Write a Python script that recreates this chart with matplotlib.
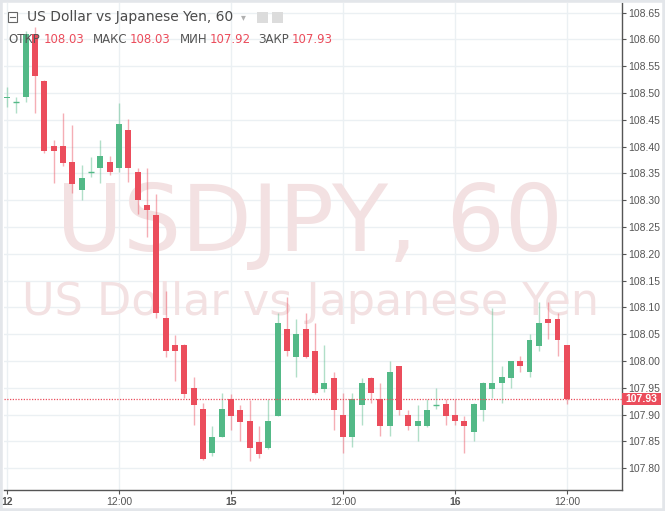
import matplotlib
matplotlib.use("Agg")
import matplotlib.pyplot as plt
from matplotlib.patches import Rectangle

# Datos OHLC horarios (USDJPY, 60)
apertura = [108.490, 108.484, 108.492, 108.610, 108.523, 108.402, 108.402, 108.371, 108.320, 108.352,
            108.360, 108.371, 108.360, 108.431, 108.353, 108.291, 108.272, 108.080, 108.030, 108.030,
            107.949, 107.910, 107.828, 107.859, 107.930, 107.909, 107.889, 107.849, 107.838, 107.898,
            108.060, 108.008, 108.060, 108.019, 107.948, 107.969, 107.899, 107.858, 107.919, 107.969,
            107.929, 107.878, 107.990, 107.899, 107.878, 107.878, 107.919, 107.920, 107.899, 107.889,
            107.868, 107.909, 107.948, 107.959, 107.968, 108.000, 107.979, 108.029, 108.079, 108.079,
            108.030]
maximo = [108.512, 108.493, 108.615, 108.624, 108.525, 108.412, 108.463, 108.440, 108.365, 108.381,
          108.412, 108.383, 108.482, 108.451, 108.360, 108.360, 108.311, 108.130, 108.049, 108.031,
          107.971, 107.921, 107.878, 107.940, 107.939, 107.919, 107.927, 107.879, 107.929, 108.089,
          108.120, 108.078, 108.089, 108.071, 108.030, 107.980, 107.940, 107.940, 107.969, 107.970,
          107.959, 108.000, 107.990, 107.909, 107.919, 107.929, 107.949, 107.929, 107.929, 107.898,
          107.921, 107.961, 108.099, 107.990, 108.001, 108.010, 108.050, 108.111, 108.111, 108.089,
          108.030]
minimo = [108.474, 108.463, 108.484, 108.463, 108.389, 108.332, 108.363, 108.314, 108.300, 108.344,
          108.332, 108.347, 108.353, 108.335, 108.274, 108.232, 108.080, 108.008, 107.962, 107.931,
          107.881, 107.816, 107.822, 107.858, 107.871, 107.850, 107.814, 107.819, 107.836, 107.897,
          108.010, 107.971, 108.006, 107.938, 107.942, 107.871, 107.829, 107.839, 107.880, 107.921,
          107.860, 107.860, 107.899, 107.871, 107.850, 107.877, 107.910, 107.880, 107.881, 107.829,
          107.850, 107.889, 107.931, 107.921, 107.949, 107.980, 107.970, 108.019, 108.041, 108.010,
          107.920]
cierre = [108.492, 108.485, 108.610, 108.532, 108.391, 108.391, 108.370, 108.330, 108.342, 108.353,
          108.383, 108.352, 108.442, 108.360, 108.300, 108.281, 108.089, 108.018, 108.018, 107.939,
          107.918, 107.817, 107.859, 107.910, 107.898, 107.887, 107.838, 107.827, 107.889, 108.071,
          108.018, 108.050, 108.008, 107.940, 107.959, 107.909, 107.858, 107.929, 107.959, 107.940,
          107.878, 107.979, 107.909, 107.878, 107.889, 107.909, 107.920, 107.898, 107.888, 107.878,
          107.920, 107.960, 107.960, 107.970, 108.000, 107.990, 108.039, 108.071, 108.071, 108.039,
          107.930]

# Marcas del eje de tiempo (indice de vela) y precios del eje derecho
pos_tiempo = [0, 12, 24, 36, 48, 60]
etiquetas_tiempo = ["12", "12:00", "15", "12:00", "16", "12:00"]
dias = ["12", "15", "16"]
precios_eje = [107.80, 107.85, 107.90, 107.95, 108.00, 108.05, 108.10, 108.15, 108.20,
               108.25, 108.30, 108.35, 108.40, 108.45, 108.50, 108.55, 108.60, 108.65]
precio_actual = 107.93

verde = "#53b987"
rojo = "#eb4d5c"
marca_agua = "#f3e1e2"
W, H = 665, 511


def fx(px):
    return px / W


def fy(py):
    return 1 - py / H


fig = plt.figure(figsize=(6.65, 5.11), dpi=100)
fig.patch.set_facecolor("white")
ax = fig.add_axes([fx(4), fy(490), fx(621.7) - fx(4), fy(3) - fy(490)])
ax.set_xlim(-0.32, 65.88)
ax.set_ylim(107.7595, 108.668)

# Rejilla
for p in precios_eje:
    ax.axhline(p, color="#ebf0f3", lw=1, zorder=0)
for t in pos_tiempo:
    ax.axvline(t, color="#ebf0f3", lw=1, zorder=0)

# Marca de agua
ax.text(fx(310), fy(251), "USDJPY, 60", transform=fig.transFigure, ha="center", va="baseline",
        fontsize=66, color=marca_agua, zorder=1)
ax.text(fx(311), fy(315), "US Dollar vs Japanese Yen", transform=fig.transFigure, ha="center",
        va="baseline", fontsize=32, color=marca_agua, zorder=1)

# Velas
for i in range(len(apertura)):
    o, h, l, c = apertura[i], maximo[i], minimo[i], cierre[i]
    col = verde if c >= o else rojo
    ax.vlines(i, l, h, color=col, alpha=0.45, lw=1, zorder=2)
    alto = abs(c - o)
    if alto < 0.0012:
        ax.hlines(o, i - 0.32, i + 0.32, color=col, lw=1, zorder=3)
    else:
        ax.bar(i, alto, bottom=min(o, c), width=0.64, color=col, zorder=3)

# Linea del precio actual
ax.axhline(precio_actual, color=rojo, lw=0.9, ls=(0, (1, 1.2)), zorder=4)

# Ejes
for s in ["left", "top"]:
    ax.spines[s].set_visible(False)
for s in ["right", "bottom"]:
    ax.spines[s].set_color("#555555")
    ax.spines[s].set_linewidth(1)
ax.yaxis.tick_right()
ax.set_yticks(precios_eje)
ax.set_yticklabels([f"{p:.2f}" for p in precios_eje])
ax.set_xticks(pos_tiempo)
ax.set_xticklabels(etiquetas_tiempo)
ax.tick_params(axis="both", colors="#555555", labelcolor="#555555", labelsize=7.5,
               length=3, width=0.8, direction="out", pad=2)
for lab in ax.get_xticklabels():
    lab.set_fontfamily("Liberation Sans")
    if lab.get_text() in dias:
        lab.set_fontweight("bold")
for lab in ax.get_yticklabels():
    lab.set_fontfamily("Liberation Sans")

# Etiqueta del precio actual en el eje
fig.patches.append(Rectangle((fx(622), fy(405)), fx(661) - fx(622), fy(393) - fy(405),
                             transform=fig.transFigure, facecolor=rojo, edgecolor="none", zorder=5))
fig.text(fx(641.5), fy(399), f"{precio_actual:.2f}", ha="center", va="center", color="white",
         fontsize=7.5, fontweight="bold", family="Liberation Sans", zorder=6)

# Cabecera
fig.patches.append(Rectangle((fx(8), fy(22)), fx(9) - fx(0), fy(12) - fy(22), transform=fig.transFigure,
                             facecolor="white", edgecolor="#666666", lw=0.8, zorder=5))
fig.lines.append(plt.Line2D([fx(10), fx(15)], [fy(17), fy(17)], transform=fig.transFigure,
                            color="#666666", lw=0.8, zorder=6))
fig.text(fx(27), fy(17), "US Dollar vs Japanese Yen, 60", ha="left", va="center",
         fontsize=10, color="#4a4a4a")
fig.text(fx(243), fy(17), "\u25be", ha="center", va="center", fontsize=7, color="#b0b0b0")
for x0 in [257, 272]:
    fig.patches.append(Rectangle((fx(x0), fy(23)), fx(11), fy(12) - fy(23), transform=fig.transFigure,
                                 facecolor="#dcdcdc", edgecolor="none", zorder=5))

cabecera = [("ОТКР", f"{apertura[-1]:.2f}", 8, 44), ("МАКС", f"{maximo[-1]:.2f}", 93, 130),
            ("МИН", f"{minimo[-1]:.2f}", 180, 210), ("ЗАКР", f"{cierre[-1]:.2f}", 258, 292)]
for nombre, valor, xn, xv in cabecera:
    fig.text(fx(xn), fy(39), nombre, ha="left", va="center", fontsize=8.5, color="#555555")
    fig.text(fx(xv), fy(39), valor, ha="left", va="center", fontsize=8.5, color=rojo)

# Marco exterior
fig.patches.append(Rectangle((0, 0), 1, 1, transform=fig.transFigure, fill=False,
                             edgecolor="#e3e6ea", lw=4, zorder=10))

plt.savefig("out.png", dpi=100)
